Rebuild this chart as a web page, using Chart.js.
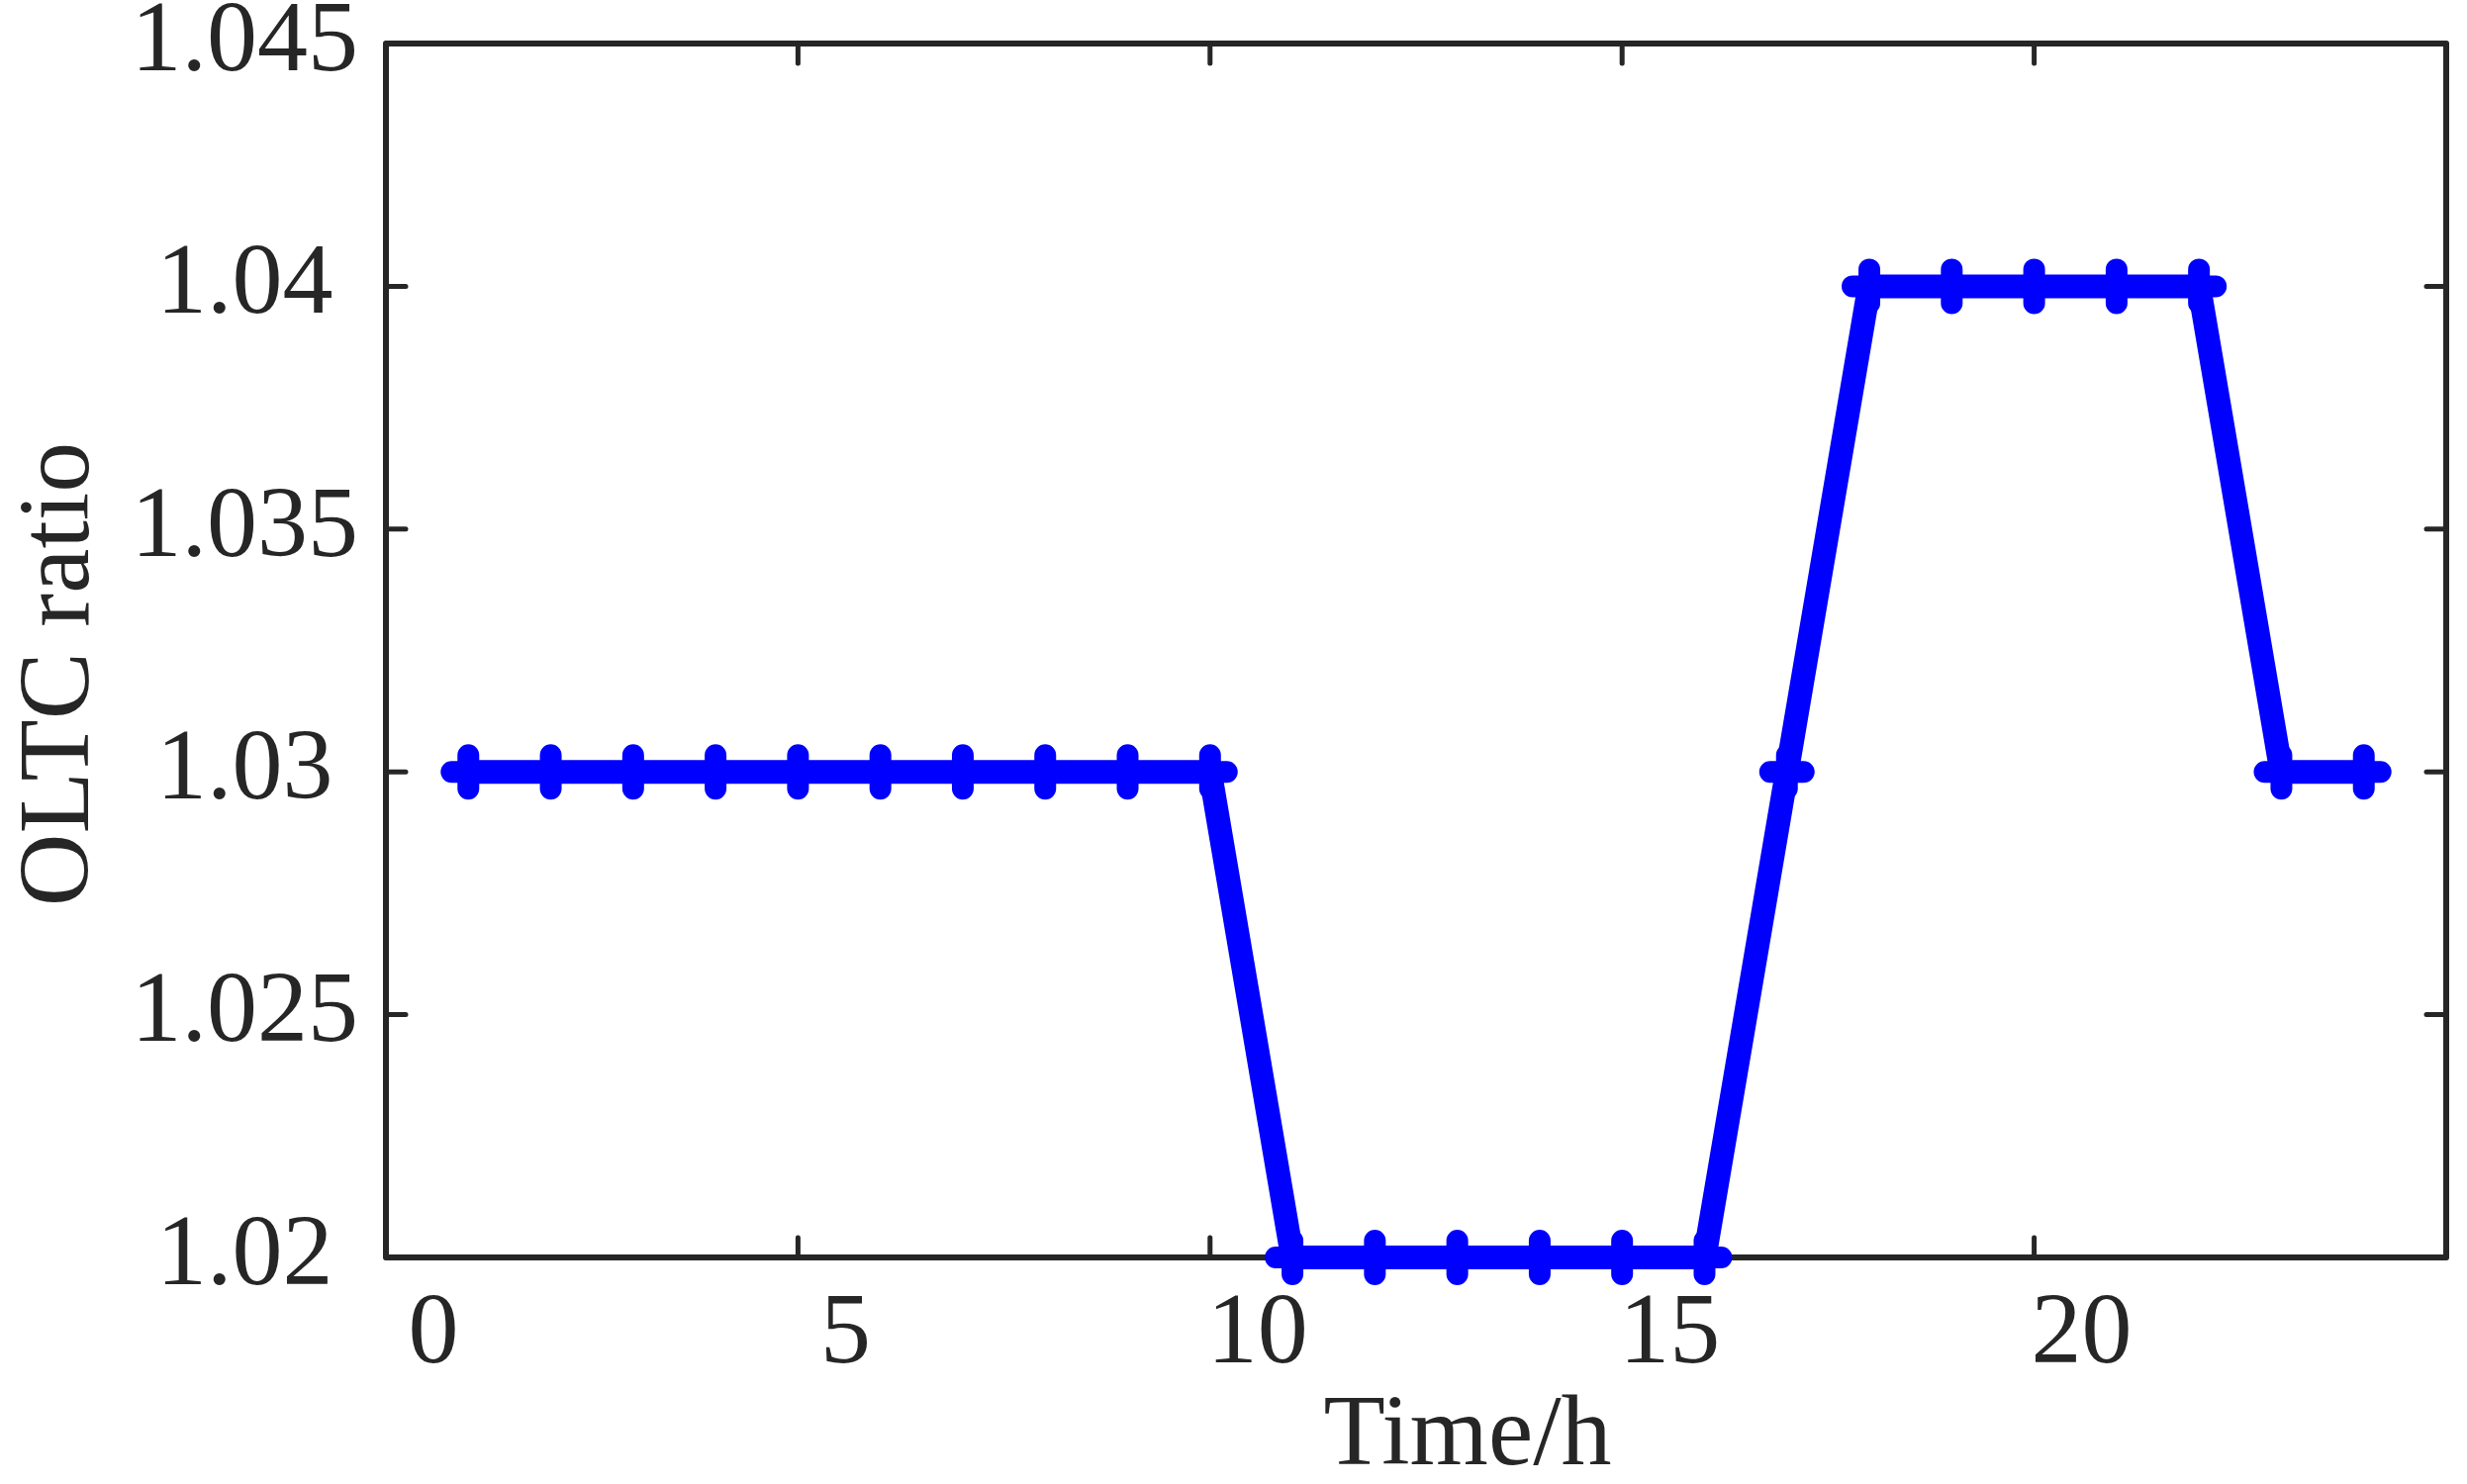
<!DOCTYPE html>
<html>
<head>
<meta charset="UTF-8">
<title>OLTC ratio</title>
<script src="https://cdn.jsdelivr.net/npm/chart.js@4/dist/chart.umd.min.js"></script>
<style>
html, body { margin: 0; padding: 0; background: #fff; overflow: hidden; }
canvas { display: block; }
</style>
</head>
<body>
<canvas id="oltcChart" width="2493" height="1500"></canvas>
<script>
// Data: one tap ratio per hour
const hours      = [1, 2, 3, 4, 5, 6, 7, 8, 9, 10, 11, 12, 13, 14, 15, 16, 17, 18, 19, 20, 21, 22, 23, 24];
const oltcRatio  = [1.03, 1.03, 1.03, 1.03, 1.03, 1.03, 1.03, 1.03, 1.03, 1.03,
                    1.02, 1.02, 1.02, 1.02, 1.02, 1.02,
                    1.03,
                    1.04, 1.04, 1.04, 1.04, 1.04,
                    1.03, 1.03];
const xTicks      = [0, 5, 10, 15, 20, 25];
const xTickLabels = ['0', '5', '10', '15', '20', ''];
const yTicks      = [1.02, 1.025, 1.03, 1.035, 1.04, 1.045];
const yTickLabels = ['1.02', '1.025', '1.03', '1.035', '1.04', '1.045'];

const TEXT_COLOR = '#262626';
const FONT       = {family: '"Liberation Serif", "Times New Roman", serif', size: 102};

// Box, inward ticks and axis titles, MATLAB style
const axesBox = {
    id: 'axesBox',
    beforeDatasetsDraw(chart) {
        const {ctx, chartArea: a, scales: {x, y}} = chart;
        const tick = 20;
        ctx.save();
        ctx.strokeStyle = TEXT_COLOR;
        ctx.lineCap     = 'round';
        ctx.lineWidth   = 5;
        ctx.beginPath();
        xTicks.forEach((v) => {
            const px = x.getPixelForValue(v);
            ctx.moveTo(px, a.bottom); ctx.lineTo(px, a.bottom - tick);
            ctx.moveTo(px, a.top);    ctx.lineTo(px, a.top + tick);
        });
        yTicks.forEach((v) => {
            const py = y.getPixelForValue(v);
            ctx.moveTo(a.left, py);  ctx.lineTo(a.left + tick, py);
            ctx.moveTo(a.right, py); ctx.lineTo(a.right - tick, py);
        });
        ctx.stroke();
        ctx.lineWidth = 6;
        ctx.lineJoin  = 'round';
        ctx.strokeRect(a.left, a.top, a.right - a.left, a.bottom - a.top);
        ctx.restore();
        // points reuse the context state, give the "+" markers round ends
        ctx.lineCap = 'round';
    },
    afterDraw(chart) {
        const {ctx, chartArea: a} = chart;
        ctx.save();
        ctx.fillStyle    = TEXT_COLOR;
        ctx.font         = FONT.size + 'px ' + FONT.family;
        ctx.textAlign    = 'center';
        ctx.textBaseline = 'alphabetic';
        ctx.fillText('Time/h', (a.left + a.right) / 2 + 52, a.bottom + 209);
        ctx.translate(62, (a.top + a.bottom) / 2 + 24);
        ctx.rotate(-Math.PI / 2);
        ctx.textBaseline = 'middle';
        ctx.fillText('OLTC ratio', 0, 0);
        ctx.restore();
    }
};

new Chart(document.getElementById('oltcChart'), {
    type: 'line',
    data: {
        datasets: [{
            data: hours.map((h, i) => ({x: h, y: oltcRatio[i]})),
            borderColor: '#0000ff',
            backgroundColor: '#0000ff',
            borderWidth: 24,
            borderCapStyle: 'round',
            borderJoinStyle: 'round',
            pointStyle: 'cross',
            pointRadius: 17,
            pointBorderWidth: 22,
            pointBorderColor: '#0000ff',
            tension: 0,
            clip: false
        }]
    },
    options: {
        responsive: false,
        animation: false,
        layout: {autoPadding: false, padding: {top: 44, right: 21, left: 0, bottom: 0}},
        plugins: {legend: {display: false}, tooltip: {enabled: false}},
        scales: {
            x: {
                type: 'linear',
                min: 0,
                max: 25,
                grid: {display: false},
                border: {display: false},
                afterBuildTicks: (s) => { s.ticks = xTicks.map((v) => ({value: v})); },
                afterFit: (s) => { s.height = 229; s.paddingLeft = 0; s.paddingRight = 0; },
                ticks: {
                    color: TEXT_COLOR,
                    font: FONT,
                    padding: 10,
                    labelOffset: 48,
                    maxRotation: 0,
                    autoSkip: false,
                    callback: (v) => xTickLabels[xTicks.indexOf(v)]
                }
            },
            y: {
                type: 'linear',
                min: 1.02,
                max: 1.045,
                grid: {display: false},
                border: {display: false},
                afterBuildTicks: (s) => { s.ticks = yTicks.map((v) => ({value: v})); },
                afterFit: (s) => { s.width = 390; s.paddingTop = 0; s.paddingBottom = 0; },
                ticks: {
                    color: TEXT_COLOR,
                    font: FONT,
                    padding: 20,
                    crossAlign: 'center',
                    autoSkip: false,
                    callback: (v, i) => yTickLabels[i]
                }
            }
        }
    },
    plugins: [axesBox]
});
</script>
</body>
</html>
